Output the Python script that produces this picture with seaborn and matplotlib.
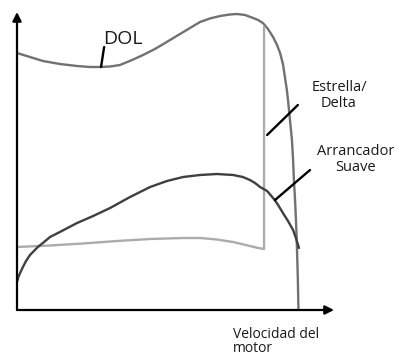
import numpy as np
import pandas as pd
import seaborn as sns
import matplotlib.pyplot as plt

# velocidad (% de la sincrona) y par (% aprox.)
dol_speed = [0.0, 4.6, 9.2, 15.2, 21.3, 25.9, 29.4, 33.0, 36.5, 40.8, 44.7, 48.9,
             52.5, 57.8, 64.9, 68.4, 72.0, 75.5, 78.0, 80.9, 83.7, 85.5, 87.2,
             89.0, 90.8, 92.2, 93.3, 94.3, 95.0, 95.7, 96.1, 96.8, 97.5, 97.9,
             98.2, 98.6, 99.0, 99.3, 99.6, 99.8]
dol_torque = [257, 253, 249, 246, 244, 243, 243, 243.5, 245, 250, 255, 261,
              267, 276, 288, 291.5, 294, 295.5, 296, 295, 292, 290, 287,
              281, 273, 265, 257, 246, 233, 220, 210, 190, 170, 150,
              130, 110, 85, 60, 30, 0]

sd_speed = [0.0, 11.7, 23.4, 35.5, 47.2, 58.9, 64.9, 70.9, 76.6, 82.6, 85.5, 87.6, 87.6]
sd_torque = [63, 64.5, 66.5, 69, 71, 72, 72, 70.5, 68, 64, 62, 61, 283]

ss_speed = [0.0, 0.5, 1.1, 2.1, 3.2, 4.6, 6.0, 7.4, 9.6, 11.7, 15.2, 21.3, 27.0,
            33.0, 40.1, 47.2, 53.2, 58.9, 64.9, 70.9, 76.6, 80.1, 82.6, 84.4,
            86.2, 88.7, 91.1, 92.6, 94.3, 96.1, 97.9, 98.9, 100.0]
ss_torque = [28, 33, 37, 43, 49, 55, 59, 63, 68, 73, 78, 87, 94,
             102, 113, 123, 129, 133, 135, 136, 135, 133, 130, 127,
             123, 119, 111, 105, 97, 89, 80, 72, 62]

series = {
    'DOL': (dol_speed, dol_torque, '#717173'),
    'Estrella/Delta': (sd_speed, sd_torque, '#ababad'),
    'Arrancador Suave': (ss_speed, ss_torque, '#3f3f41'),
}


def main():
    sns.set_style('white')
    plt.rcParams['font.family'] = ['Open Sans', 'DejaVu Sans']

    W, H = 397, 358
    fig = plt.figure(figsize=(W / 100, H / 100), dpi=100)
    # origen en (17, 310) px, flechas hasta x=334 y y=12
    ax = fig.add_axes([17 / W, (H - 310) / H, (334 - 17) / W, (310 - 12) / H])
    ax.set_xlim(0, (334 - 17) / 2.82)
    ax.set_ylim(0, 298)

    for name, (x, y, c) in series.items():
        df = pd.DataFrame({'speed': x, 'torque': y})
        sns.lineplot(data=df, x='speed', y='torque', sort=False, estimator=None,
                     color=c, lw=1.7, ax=ax, clip_on=False)

    for s in ax.spines.values():
        s.set_visible(False)
    ax.set_xticks([])
    ax.set_yticks([])
    ax.set_xlabel('')
    ax.set_ylabel('')

    arrow = dict(arrowstyle='-|>', color='black', lw=1.6, mutation_scale=13,
                 shrinkA=0, shrinkB=0)
    ax.annotate('', xy=(0, 1), xytext=(0, 0), xycoords='axes fraction', arrowprops=arrow)
    ax.annotate('', xy=(1, 0), xytext=(0, 0), xycoords='axes fraction', arrowprops=arrow)

    leader = dict(arrowstyle='-', color='black', lw=1.7, shrinkA=0, shrinkB=0)
    ax.text(30.5, 266, 'DOL', fontsize=14, ha='left', va='baseline', color='#1a1a1a')
    ax.annotate('', xy=(29.8, 243), xytext=(30.9, 263), arrowprops=leader)

    ax.text(114.2, 230, 'Estrella/\nDelta', fontsize=10.5, ha='center', va='top',
            color='#1a1a1a', linespacing=1.1)
    ax.annotate('', xy=(88.7, 175), xytext=(99.6, 205), arrowprops=leader)

    ax.text(120.2, 166, 'Arrancador\nSuave', fontsize=10.5, ha='center', va='top',
            color='#1a1a1a', linespacing=1.05)
    ax.annotate('', xy=(91.5, 110), xytext=(103.9, 140), arrowprops=leader)

    # en el original "motor" queda justo en el borde inferior
    ax.text(76.6, -17, 'Velocidad del\nmotor', fontsize=10, ha='left', va='top',
            color='#1a1a1a', linespacing=0.95)

    fig.savefig('out.png', dpi=100)


if __name__ == '__main__':
    main()
